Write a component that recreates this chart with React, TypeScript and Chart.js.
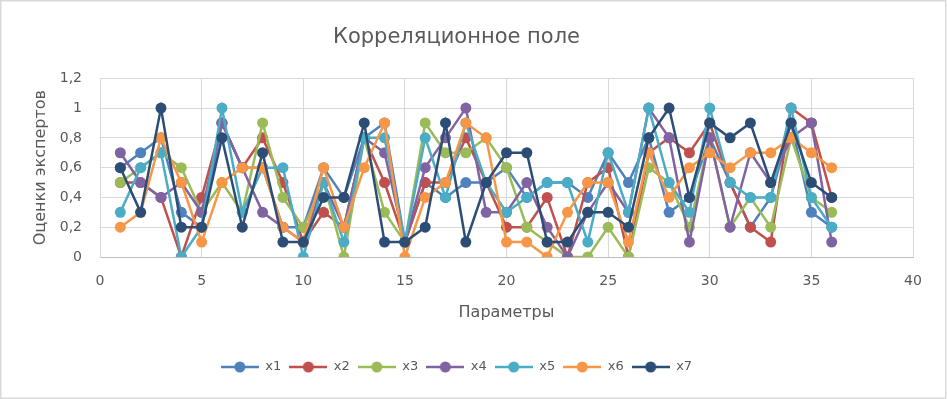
import React, { useEffect, useRef } from 'react';
import { Chart, registerables } from 'chart.js';

Chart.register(...registerables);

const parameters = [1, 2, 3, 4, 5, 6, 7, 8, 9, 10, 11, 12, 13, 14, 15, 16, 17, 18, 19, 20, 21, 22, 23, 24, 25, 26, 27, 28, 29, 30, 31, 32, 33, 34, 35, 36];

const x1 = [0.6, 0.7, 0.8, 0.3, 0.2, 0.9, 0.6, 0.6, 0.2, 0.2, 0.6, 0.4, 0.8, 0.9, 0.1, 0.5, 0.4, 0.5, 0.5, 0.6, 0.4, 0.5, 0.5, 0.4, 0.7, 0.5, 0.8, 0.3, 0.4, 0.8, 0.5, 0.2, 0.4, 0.9, 0.3, 0.2];
const x2 = [0.5, 0.5, 0.4, 0.0, 0.4, 0.9, 0.6, 0.8, 0.5, 0.1, 0.3, 0.2, 0.8, 0.5, 0.1, 0.5, 0.5, 0.8, 0.5, 0.2, 0.2, 0.4, 0.0, 0.5, 0.6, 0.0, 0.7, 0.8, 0.7, 0.9, 0.5, 0.2, 0.1, 1.0, 0.9, 0.4];
const x3 = [0.5, 0.6, 0.7, 0.6, 0.3, 0.5, 0.3, 0.9, 0.4, 0.2, 0.5, 0.0, 0.8, 0.3, 0.1, 0.9, 0.7, 0.7, 0.8, 0.6, 0.2, 0.1, 0.0, 0.0, 0.2, 0.0, 0.6, 0.5, 0.2, 0.8, 0.2, 0.4, 0.2, 0.8, 0.4, 0.3];
const x4 = [0.7, 0.5, 0.4, 0.5, 0.3, 0.9, 0.6, 0.3, 0.2, 0.1, 0.5, 0.2, 0.8, 0.7, 0.1, 0.6, 0.8, 1.0, 0.3, 0.3, 0.5, 0.2, 0.0, 0.3, 0.5, 0.3, 1.0, 0.8, 0.1, 0.8, 0.2, 0.7, 0.5, 0.8, 0.9, 0.1];
const x5 = [0.3, 0.6, 0.7, 0.0, 0.2, 1.0, 0.3, 0.6, 0.6, 0.0, 0.5, 0.1, 0.8, 0.8, 0.1, 0.8, 0.4, 0.9, 0.5, 0.3, 0.4, 0.5, 0.5, 0.1, 0.7, 0.3, 1.0, 0.5, 0.3, 1.0, 0.5, 0.4, 0.4, 1.0, 0.4, 0.2];
const x6 = [0.2, 0.3, 0.8, 0.5, 0.1, 0.5, 0.6, 0.6, 0.2, 0.1, 0.6, 0.2, 0.6, 0.9, 0.0, 0.4, 0.5, 0.9, 0.8, 0.1, 0.1, 0.0, 0.3, 0.5, 0.5, 0.1, 0.7, 0.4, 0.6, 0.7, 0.6, 0.7, 0.7, 0.8, 0.7, 0.6];
const x7 = [0.6, 0.3, 1.0, 0.2, 0.2, 0.8, 0.2, 0.7, 0.1, 0.1, 0.4, 0.4, 0.9, 0.1, 0.1, 0.2, 0.9, 0.1, 0.5, 0.7, 0.7, 0.1, 0.1, 0.3, 0.3, 0.2, 0.8, 1.0, 0.4, 0.9, 0.8, 0.9, 0.5, 0.9, 0.5, 0.4];

const seriesNames = ['x1', 'x2', 'x3', 'x4', 'x5', 'x6', 'x7'];
const seriesValues = [x1, x2, x3, x4, x5, x6, x7];
const seriesColors = ['#4F81BD', '#C0504D', '#9BBB59', '#8064A2', '#4BACC6', '#F79646', '#2C4D75'];

const yTickLabels = ['0', '0,2', '0,4', '0,6', '0,8', '1', '1,2'];
const xTickLabels = ['0', '5', '10', '15', '20', '25', '30', '35', '40'];

const chartTitle = 'Корреляционное поле';
const xTitle = 'Параметры';
const yTitle = 'Оценки экспертов';

const FONT = '"DejaVu Sans", sans-serif';
const TEXT = '#595959';
const GRID = '#D9D9D9';

function legendSymbol(color: string) {
  const c = document.createElement('canvas');
  c.width = 38;
  c.height = 12;
  const ctx = c.getContext('2d')!;
  ctx.strokeStyle = color;
  ctx.lineWidth = 2.5;
  ctx.beginPath();
  ctx.moveTo(0, 6);
  ctx.lineTo(38, 6);
  ctx.stroke();
  ctx.fillStyle = color;
  ctx.beginPath();
  ctx.arc(19, 6, 5.5, 0, Math.PI * 2);
  ctx.fill();
  return c;
}

const borderPlugin = {
  id: 'outerBorder',
  afterDraw(chart: any) {
    const ctx = chart.ctx;
    ctx.save();
    ctx.strokeStyle = GRID;
    ctx.lineWidth = 1.5;
    ctx.strokeRect(0.75, 0.75, chart.width - 2, chart.height - 1.5);
    ctx.restore();
  },
};

export default function App() {
  const ref = useRef<HTMLCanvasElement | null>(null);

  useEffect(() => {
    document.body.style.margin = '0';
    const canvas = ref.current;
    if (!canvas) return;

    const datasets = seriesNames.map((name, i) => ({
      label: name,
      data: parameters.map((p, j) => ({ x: p, y: seriesValues[i][j] })),
      showLine: true,
      borderColor: seriesColors[i],
      backgroundColor: seriesColors[i],
      borderWidth: 2.5,
      pointRadius: 5.5,
      pointBorderWidth: 0,
      pointBackgroundColor: seriesColors[i],
      pointHoverRadius: 5.5,
      order: seriesNames.length - i,
    }));

    const chart = new Chart(canvas, {
      type: 'scatter',
      data: { datasets },
      plugins: [borderPlugin],
      options: {
        responsive: false,
        animation: false,
        layout: { padding: { left: 0, right: 34, top: 0, bottom: 15.5 } },
        plugins: {
          title: {
            display: true,
            text: chartTitle,
            color: TEXT,
            font: { family: FONT, size: 21, weight: 'normal' },
            padding: { top: 24.9, bottom: 28.2 },
          },
          legend: {
            position: 'bottom',
            labels: {
              usePointStyle: true,
              pointStyleWidth: 38,
              padding: 8,
              color: TEXT,
              font: { family: FONT, size: 13 },
              generateLabels: () =>
                seriesNames.map((name, i) => ({
                  text: name,
                  fillStyle: seriesColors[i],
                  strokeStyle: seriesColors[i],
                  fontColor: TEXT,
                  lineWidth: 0,
                  pointStyle: legendSymbol(seriesColors[i]),
                  hidden: false,
                  datasetIndex: i,
                })),
            },
          },
          tooltip: { enabled: false },
        },
        scales: {
          x: {
            type: 'linear',
            min: 0,
            max: 40,
            ticks: {
              stepSize: 5,
              color: TEXT,
              font: { family: FONT, size: 14 },
              padding: 16,
              callback: (_v: any, i: number) => xTickLabels[i],
            },
            grid: { color: GRID, drawTicks: false },
            border: { color: '#BFBFBF' },
            title: {
              display: true,
              text: xTitle,
              color: TEXT,
              font: { family: FONT, size: 16 },
              padding: { top: 4, bottom: 30 },
            },
            afterFit: (s: any) => {
              s.height = 95.5;
            },
          },
          y: {
            min: 0,
            max: 1.2,
            ticks: {
              stepSize: 0.2,
              color: TEXT,
              font: { family: FONT, size: 14 },
              padding: 18,
              callback: (_v: any, i: number) => yTickLabels[i],
            },
            grid: { color: GRID, drawTicks: false },
            border: { color: GRID },
            title: {
              display: true,
              text: yTitle,
              color: TEXT,
              font: { family: FONT, size: 16 },
              padding: { top: 31.4, bottom: 4 },
            },
            afterFit: (s: any) => {
              s.width = 100;
            },
          },
        },
      },
    } as any);

    return () => chart.destroy();
  }, []);

  return (
    <div style={{ width: 947, height: 399 }}>
      <canvas ref={ref} width={947} height={399} style={{ display: 'block', width: 947, height: 399 }} />
    </div>
  );
}
